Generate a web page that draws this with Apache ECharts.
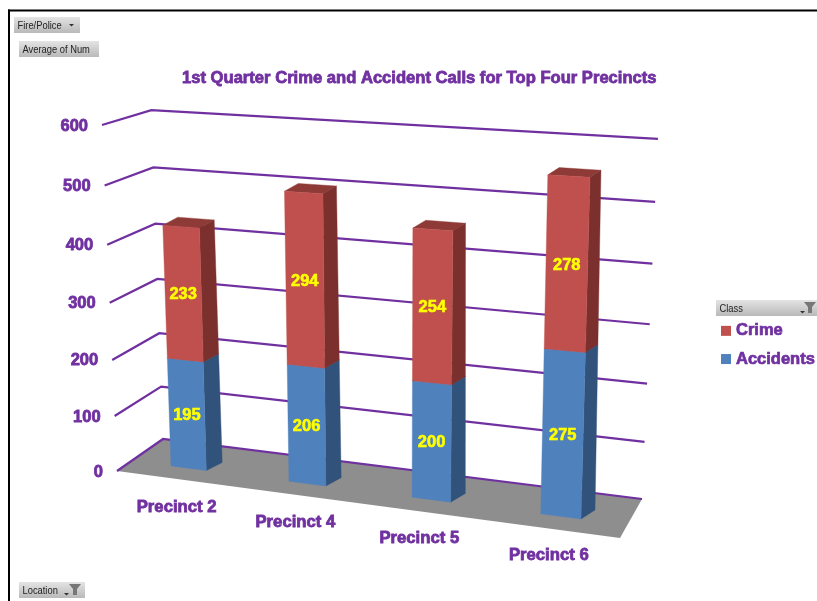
<!DOCTYPE html>
<html><head><meta charset="utf-8">
<style>html,body{margin:0;padding:0;background:#fff}#c{width:817px;height:601px}</style>
<script src="https://cdn.jsdelivr.net/npm/echarts@6/dist/echarts.min.js"></script>
</head><body><div id="c"></div>
<script>
// ---- data ----
const categories = ['Precinct 2','Precinct 4','Precinct 5','Precinct 6'];
const accidents = [195,206,200,275];
const crime = [233,294,254,278];
const valueTicks = [0,100,200,300,400,500,600];
const chartTitle = '1st Quarter Crime and Accident Calls for Top Four Precincts';

// ---- style ----
const PURPLE='#7030A0', FONT='"Liberation Sans",Arial,sans-serif', UI='"Liberation Sans",sans-serif';
const BLUE={front:'#4F81BD',side:'#31527A',top:'#3F668F'};
const RED={front:'#C0504D',side:'#7C302E',top:'#8E3A37'};
const BAR_WIDTH=0.092;   // share of the bar row, at the front
const HEIGHT_FORESHORTEN=0.045; // lower values sit slightly compressed, as in the 3-D view

// ---- perspective cameras ----
function quadCoeffs(p0,p1,p2,p3){
  const dx1=p1[0]-p2[0],dx2=p3[0]-p2[0],sx=p0[0]-p1[0]+p2[0]-p3[0];
  const dy1=p1[1]-p2[1],dy2=p3[1]-p2[1],sy=p0[1]-p1[1]+p2[1]-p3[1];
  const det=dx1*dy2-dx2*dy1;
  const g=(sx*dy2-dx2*sy)/det,h=(dx1*sy-sx*dy1)/det;
  return {g,h,a:p1[0]-p0[0]+g*p1[0],b:p3[0]-p0[0]+h*p3[0],c:p0[0],
    d:p1[1]-p0[1]+g*p1[1],e:p3[1]-p0[1]+h*p3[1],f:p0[1]};
}
function quadMap(q){
  const K=quadCoeffs(q[0],q[1],q[2],q[3]);
  return (u,z)=>{const w=K.g*u+K.h*z+1;return [(K.a*u+K.b*z+K.c)/w,(K.d*u+K.e*z+K.f)/w];};
}
// floor quad plus two points that fix the vertical axis (true projective camera)
function camera(q,ta,tb){
  const {a,b,c,d,e,f,g,h}=quadCoeffs(q[0],q[1],q[2],q[3]);
  const W=(t)=>g*t[0]+h*t[1]+1, NX=(t)=>a*t[0]+b*t[1]+c, NY=(t)=>d*t[0]+e*t[1]+f;
  const ax=ta[3]-tb[3], bx=(tb[3]*W(tb)-NX(tb))/tb[2]-(ta[3]*W(ta)-NX(ta))/ta[2];
  const ay=ta[4]-tb[4], by=(tb[4]*W(tb)-NY(tb))/tb[2]-(ta[4]*W(ta)-NY(ta))/ta[2];
  const r=(ax*bx+ay*by)/(ax*ax+ay*ay);
  const p=(ta[3]*(W(ta)+r*ta[2])-NX(ta))/ta[2], s=(ta[4]*(W(ta)+r*ta[2])-NY(ta))/ta[2];
  return (u,z,v)=>{const w=g*u+h*z+1+r*v;return [(a*u+b*z+c+p*v)/w,(d*u+e*z+f+s*v)/w];};
}
// bar volume: a bottom quad (value 0) and a top quad (axis maximum), blended by value.
// The top quad reuses the bottom quad's left-to-right spacing, so bars stay upright.
function volume(bottom,top){
  const B=quadMap(bottom);
  const lerp=(p,q,t)=>[p[0]+(q[0]-p[0])*t,p[1]+(q[1]-p[1])*t];
  return (u,z,v)=>{
    const s=(B(u,0)[0]-bottom[0][0])/(bottom[1][0]-bottom[0][0]);
    const b=B(u,z),t=lerp(lerp(top[0],top[1],s),lerp(top[3],top[2],s),z);
    return lerp(b,t,v/(1+HEIGHT_FORESHORTEN*(1-v)));
  };
}
const floorCam=camera([[117,471],[620,538],[642,499],[163,439]],[0,0,1,102,125],[1,1,1,658,135]);
const barCam=volume([[171,466],[581,519],[595,510],[187,458]],[[159.4,124],[590.8,147],[601.5,140],[174,116]]);

// stacks
const crimeBase=accidents.slice();
const crimeTop=accidents.map((v,i)=>v+crime[i]);

function norm(params,api,cat,val){
  const s=params.coordSys, pt=api.coord([cat,val]);
  return [(pt[0]-s.x)/s.width,(s.y+s.height-pt[1])/s.height];
}
function poly(points,fill){return {type:'polygon',shape:{points},style:{fill,stroke:fill,lineWidth:0.4}};}

function barRender(col){
  return (params,api)=>{
    const i=api.value(0),lo=api.value(1),hi=api.value(2);
    const [t0,v0]=norm(params,api,i,lo),[t1,v1]=norm(params,api,i,hi);
    const uc=BAR_WIDTH/2+(1-BAR_WIDTH)*t0,uL=uc-BAR_WIDTH/2,uR=uc+BAR_WIDTH/2;
    const P=barCam;
    const mid=P(uc,0,(v0+v1)/2);
    return {type:'group',children:[
      poly([P(uL,0,v1),P(uR,0,v1),P(uR,1,v1),P(uL,1,v1)],col.top),
      poly([P(uR,0,v0),P(uR,1,v0),P(uR,1,v1),P(uR,0,v1)],col.side),
      poly([P(uL,0,v0),P(uR,0,v0),P(uR,0,v1),P(uL,0,v1)],col.front),
      {type:'text',z2:10,style:{x:mid[0],y:mid[1]+1,text:String(hi-lo),align:'center',verticalAlign:'middle',
        fill:'#FFFF00',font:'bold 16.5px '+FONT,stroke:'#FFFF00',lineWidth:0.6}}
    ]};
  };
}

const floorRender=()=>({type:'polygon',shape:{points:[floorCam(0,0,0),floorCam(1,0,0),floorCam(1,1,0),floorCam(0,1,0)]},style:{fill:'#8E8E8E'}});

const gridRender=(params,api)=>{
  const val=api.value(0);
  const [,v]=norm(params,api,0,val);
  const a=floorCam(0,0,v),b=floorCam(0,1,v),c=floorCam(1,1,v);
  return {type:'group',children:[
    {type:'polyline',shape:{points:[a,b,c]},style:{stroke:PURPLE,lineWidth:2.2,fill:null}},
    {type:'text',style:{x:a[0]-14,y:a[1]+1,text:String(val),align:'right',verticalAlign:'middle',
      fill:PURPLE,font:'bold 16.5px '+FONT,stroke:PURPLE,lineWidth:0.8}}
  ]};
};

const catRender=(params,api)=>{
  const i=api.value(0);
  const [t]=norm(params,api,i,0);
  const uc=BAR_WIDTH/2+(1-BAR_WIDTH)*t;
  const p=barCam(uc,0,0);
  return {type:'text',style:{x:p[0]-12,y:p[1]+39,text:categories[i],align:'center',verticalAlign:'middle',
    fill:PURPLE,font:'bold 16.7px '+FONT,stroke:PURPLE,lineWidth:0.8}};
};

// ---- pivot-chart buttons ----
const btnFill={type:'linear',x:0,y:0,x2:0,y2:1,colorStops:[{offset:0,color:'#E4E4E4'},{offset:1,color:'#B9B9B9'}]};
function button(x,y,w,label){
  return [{type:'rect',shape:{x,y,width:w,height:16},style:{fill:btnFill}},
    {type:'text',x:x+3.5,y:y+8.5,scaleX:0.85,style:{x:0,y:0,text:label,verticalAlign:'middle',fill:'#222',font:'11px '+UI}}];
}
function arrow(x,y){return {type:'polygon',shape:{points:[[x,y],[x+5,y],[x+2.5,y+2.5]]},style:{fill:'#333'}};}
function funnel(x,y){return {type:'polygon',shape:{points:[[x,y],[x+12,y],[x+8,y+5],[x+8,y+11],[x+4,y+11],[x+4,y+5]]},style:{fill:'#777'}};}

const option={
  animation:false,
  backgroundColor:'#fff',
  title:{text:chartTitle,left:182,top:70,padding:0,textStyle:{color:PURPLE,fontFamily:FONT,fontWeight:'bold',fontSize:16.6,textBorderColor:PURPLE,textBorderWidth:0.8}},
  legend:{data:['Crime','Accidents'],orient:'vertical',left:721,top:322,padding:0,itemGap:10.5,icon:'rect',itemWidth:10,itemHeight:10,
    textStyle:{color:PURPLE,fontFamily:FONT,fontWeight:'bold',fontSize:16.5,textBorderColor:PURPLE,textBorderWidth:0.7},selectedMode:false},
  grid:{left:100,top:100,width:500,height:350,containLabel:false},
  xAxis:{type:'category',data:categories,boundaryGap:false,show:false},
  yAxis:{type:'value',min:0,max:600,interval:100,show:false},
  graphic:{elements:[
    {type:'rect',shape:{x:8,y:9.5,width:809,height:2},style:{fill:'#000'}},
    {type:'rect',shape:{x:8,y:9.5,width:2,height:592},style:{fill:'#000'}},
    ...button(14,17,66,'Fire/Police'),arrow(69,24),
    ...button(19,41,80,'Average of Num'),
    ...button(716,300,101,'Class'),arrow(800,311),funnel(804,302),
    ...button(19,582,66,'Location'),arrow(64,593),funnel(69,584)
  ]},
  series:[
    {type:'custom',name:'Floor',z:1,silent:true,renderItem:floorRender,data:[[0,0]],encode:{x:0,y:1}},
    {type:'custom',name:'Gridlines',z:2,silent:true,renderItem:gridRender,data:valueTicks.map(v=>[v]),encode:{y:0}},
    {type:'custom',name:'Labels',z:2,silent:true,renderItem:catRender,data:categories.map((c,i)=>[i]),encode:{x:0}},
    {type:'custom',name:'Accidents',z:3,itemStyle:{color:BLUE.front},renderItem:barRender(BLUE),
      data:accidents.map((v,i)=>[i,0,v]),encode:{x:0,y:[1,2]}},
    {type:'custom',name:'Crime',z:3,itemStyle:{color:RED.front},renderItem:barRender(RED),
      data:crime.map((v,i)=>[i,crimeBase[i],crimeTop[i]]),encode:{x:0,y:[1,2]}}
  ]
};
echarts.init(document.getElementById('c'),null,{renderer:'canvas'}).setOption(option);
</script></body></html>
